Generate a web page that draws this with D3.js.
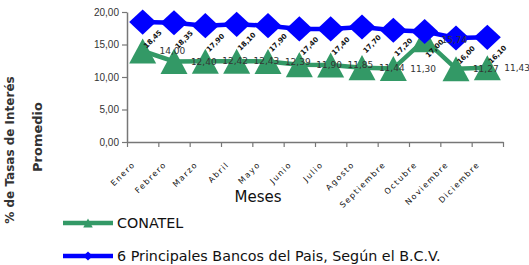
<!DOCTYPE html>
<meta charset="utf-8">
<style>
body { margin: 0; background: #fff; font-family: "DejaVu Sans", sans-serif; }
svg text { fill: #333; }
</style>
<body>
<div id="graph"></div>
<script src="https://cdn.jsdelivr.net/npm/d3@7"></script>
<script>
var meses = ["Enero", "Febrero", "Marzo", "Abril", "Mayo", "Junio", "Julio",
             "Agosto", "Septiembre", "Octubre", "Noviembre", "Diciembre"];
var conatel = [14.00, 12.40, 12.42, 12.43, 12.39, 11.90, 11.85, 11.44, 11.30, 15.74, 11.27, 11.43];
var bancos = [18.45, 18.35, 17.90, 18.10, 17.90, 17.40, 17.40, 17.70, 17.20, 17.00, 16.00, 16.10];
var yTicks = [0, 5, 10, 15, 20];

var fmt = v => d3.format(".2f")(v).replace(".", ",");

var margin = {top: 12, left: 127},
    width = 376,
    height = 130;

var svg = d3.select("#graph").append("svg")
    .attr("width", 529)
    .attr("height", 265);
var g = svg.append("g")
    .attr("transform", "translate(" + margin.left + "," + margin.top + ")");

var x = d3.scaleBand().domain(meses).range([0, width]),
    xb = d3.scaleLinear().domain([0, 12]).range([0, width]),
    y = d3.scaleLinear().domain([0, 20]).range([height, 0]);
var cx = i => x(meses[i]) + x.bandwidth() / 2;

// marker shapes
var tri = {draw: function(c, s) { var r = Math.sqrt(s) / 2;
  c.moveTo(0, -r * 0.93); c.lineTo(r, r * 0.93); c.lineTo(-r, r * 0.93); c.closePath(); }};
var dia = {draw: function(c, s) { var r = Math.sqrt(s) / 2;
  c.moveTo(0, -r * 0.93); c.lineTo(r, 0); c.lineTo(0, r * 0.93); c.lineTo(-r, 0); c.closePath(); }};

// axes
var yAxis = g.append("g")
    .call(d3.axisLeft(y).tickValues(yTicks).tickFormat(fmt).tickSize(5).tickSizeOuter(0));
var xAxis = g.append("g")
    .attr("transform", "translate(0," + height + ")")
    .call(d3.axisBottom(xb).tickValues(d3.range(13)).tickFormat("").tickSize(5).tickSizeOuter(0));
[yAxis, xAxis].forEach(a => {
  a.select(".domain").attr("stroke", "#777").attr("stroke-width", 1.5);
  a.selectAll(".tick line").attr("stroke", "#777").attr("stroke-width", 1.2);
});
yAxis.selectAll(".tick text").attr("x", -8).style("font-size", "10px").style("fill", "#333");

// month labels
g.selectAll(".mes").data(meses).enter().append("text")
    .attr("class", "mes")
    .attr("transform", d => "translate(" + (x(d) + x.bandwidth() / 2 - 7) + "," + (height + 23) + ") rotate(-45)")
    .attr("text-anchor", "end")
    .style("font-size", "8px")
    .style("letter-spacing", "1.5px")
    .style("fill", "#111")
    .text(d => d);

// lines
var line = d3.line().x((d, i) => cx(i)).y(d => y(d));

g.append("path").datum(conatel)
    .attr("d", line).attr("fill", "none")
    .attr("stroke", "#339966").attr("stroke-width", 4.5);
g.selectAll(".tri").data(conatel).enter().append("path")
    .attr("class", "tri")
    .attr("transform", (d, i) => "translate(" + cx(i) + "," + y(d) + ")")
    .attr("d", d3.symbol().type(tri).size(27 * 27))
    .attr("fill", "#339966");

g.append("path").datum(bancos)
    .attr("d", line).attr("fill", "none")
    .attr("stroke", "#0000ff").attr("stroke-width", 4.5);
g.selectAll(".dia").data(bancos).enter().append("path")
    .attr("class", "dia")
    .attr("transform", (d, i) => "translate(" + cx(i) + "," + y(d) + ")")
    .attr("d", d3.symbol().type(dia).size(27 * 27))
    .attr("fill", "#0000ff");

// rotated labels of the banks series
g.selectAll(".lblB").data(bancos).enter().append("text")
    .attr("class", "lblB")
    .attr("transform", (d, i) => "translate(" + (cx(i) + 10) + "," + (y(d) + 17) + ") rotate(-45)")
    .attr("text-anchor", "middle")
    .attr("dy", "0.35em")
    .style("font-size", "7px")
    .style("font-weight", "bold")
    .style("fill", "#111")
    .text(d => fmt(d));

// labels of CONATEL (shown one place to the right)
g.selectAll(".lblC").data(conatel).enter().append("text")
    .attr("class", "lblC")
    .attr("x", (d, i) => cx(i) + x.bandwidth() * 0.95)
    .attr("y", d => y(d))
    .attr("dy", "0.35em")
    .attr("text-anchor", "middle")
    .style("font-size", "9px")
    .style("fill", "#333")
    .text(d => fmt(d));

// axis titles
svg.append("text")
    .attr("x", 258).attr("y", 202)
    .attr("text-anchor", "middle")
    .style("font-size", "15px")
    .style("fill", "#111")
    .text("Meses");

svg.append("text")
    .attr("transform", "translate(14,150) rotate(-90)")
    .attr("text-anchor", "middle")
    .style("font-size", "12px").style("font-weight", "bold")
    .text("% de Tasas de Interés");
svg.append("text")
    .attr("transform", "translate(42,137) rotate(-90)")
    .attr("text-anchor", "middle")
    .style("font-size", "13px").style("font-weight", "bold")
    .text("Promedio");

// legend
var legend = [
  {name: "CONATEL", color: "#339966", shape: tri, y: 223},
  {name: "6 Principales Bancos del Pais, Según el B.C.V.", color: "#0000ff", shape: dia, y: 256}
];
var lg = svg.selectAll(".legend").data(legend).enter().append("g")
    .attr("class", "legend")
    .attr("transform", d => "translate(0," + d.y + ")");
lg.append("line")
    .attr("x1", 63).attr("x2", 113)
    .attr("stroke", d => d.color).attr("stroke-width", 4.5);
lg.append("path")
    .attr("transform", "translate(88,0)")
    .attr("d", d => d3.symbol().type(d.shape).size(90)())
    .attr("fill", d => d.color);
lg.append("text")
    .attr("x", 117).attr("dy", "0.36em")
    .style("font-size", "14.3px")
    .style("fill", "#111")
    .text(d => d.name);
</script>
</body>
